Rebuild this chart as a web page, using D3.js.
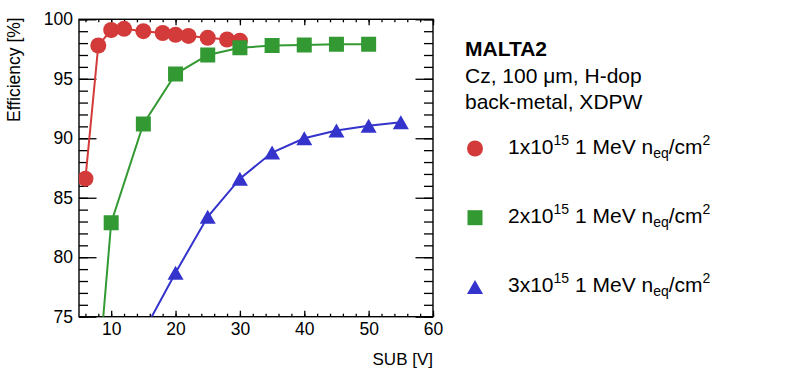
<!DOCTYPE html>
<html>
  <head>
    <meta charset="utf-8">
    <title>MALTA2 efficiency vs SUB voltage</title>
    <script src="https://d3js.org/d3.v7.min.js"></script>
    <style>
      body { margin: 0; background: #fff; }
      svg { font-family: "Liberation Sans", Arial, sans-serif; }
      text { white-space: pre; }
      .axis path { display: none; }
      .axis line { stroke: #000; stroke-width: 1.3; }
      .axis text { font-size: 17.5px; fill: #000; font-family: "Liberation Sans", Arial, sans-serif; }
    </style>
  </head>
  <body>
    <svg id="chart" width="788" height="378"></svg>
    <script>
      // data
      subRed = [6, 8, 10, 12, 15, 18, 20, 22, 25, 28, 30];
      effRed = [86.6, 97.8, 99.1, 99.2, 99.0, 98.85, 98.7, 98.6, 98.45, 98.3, 98.2];
      subGreen = [8, 10, 15, 20, 25, 30, 35, 40, 45, 50];
      effGreen = [70.0, 82.9, 91.2, 95.4, 97.0, 97.6, 97.8, 97.85, 97.9, 97.9];
      subBlue = [15, 20, 25, 30, 35, 40, 45, 50, 55];
      effBlue = [73.7, 78.7, 83.4, 86.6, 88.8, 90.0, 90.65, 91.05, 91.35];
      fluences = ["1", "2", "3"];
      xTicks = [10, 20, 30, 40, 50, 60];
      yTicks = [75, 80, 85, 90, 95, 100];
      titleLines = ["MALTA2", "Cz, 100 \u03bcm, H-dop", "back-metal, XDPW"];

      // ROOT style triangle, centred on its bounding box
      triangleUp = {
        draw: function(ctx, size) {
          var w = Math.sqrt(size) / 2, h = w * 0.875;
          ctx.moveTo(0, -h);
          ctx.lineTo(w, h);
          ctx.lineTo(-w, h);
          ctx.closePath();
        }
      };
      series = [
        { sub: subRed, eff: effRed, colour: "#d33a3a", symbol: d3.symbolCircle, size: 201 },
        { sub: subGreen, eff: effGreen, colour: "#339933", symbol: d3.symbolSquare, size: 225 },
        { sub: subBlue, eff: effBlue, colour: "#3434cc", symbol: triangleUp, size: 256 }
      ];

      svg = d3.select("#chart");
      frame = { left: 79, right: 433, top: 19.3, bottom: 316.7 };
      x = d3.scaleLinear().domain([5, 60]).range([frame.left, frame.right]);
      y = d3.scaleLinear().domain([75, 100]).range([frame.bottom, frame.top]);

      svg.append("clipPath")
        .attr("id", "plotClip")
        .append("rect")
          .attr("x", frame.left)
          .attr("y", frame.top)
          .attr("width", frame.right - frame.left)
          .attr("height", frame.bottom - frame.top);

      // axes: major + minor ticks, mirrored on top and right
      xMinor = d3.range(6, 61, 2);
      yMinor = d3.range(75, 101, 1);
      svg.append("g").attr("class", "axis")
        .attr("transform", "translate(0," + frame.bottom + ")")
        .call(d3.axisBottom(x).tickValues(xMinor).tickFormat("").tickSizeInner(-3).tickSizeOuter(0));
      svg.append("g").attr("class", "axis")
        .attr("transform", "translate(0," + frame.bottom + ")")
        .call(d3.axisBottom(x).tickValues(xTicks).tickSizeInner(-6).tickSizeOuter(0).tickPadding(6));
      svg.append("g").attr("class", "axis")
        .attr("transform", "translate(0," + frame.top + ")")
        .call(d3.axisTop(x).tickValues(xMinor).tickFormat("").tickSizeInner(-3).tickSizeOuter(0));
      svg.append("g").attr("class", "axis")
        .attr("transform", "translate(0," + frame.top + ")")
        .call(d3.axisTop(x).tickValues(xTicks).tickFormat("").tickSizeInner(-6).tickSizeOuter(0));
      svg.append("g").attr("class", "axis")
        .attr("transform", "translate(" + frame.left + ",0)")
        .call(d3.axisLeft(y).tickValues(yMinor).tickFormat("").tickSizeInner(-9).tickSizeOuter(0));
      svg.append("g").attr("class", "axis")
        .attr("transform", "translate(" + frame.left + ",0)")
        .call(d3.axisLeft(y).tickValues(yTicks).tickSizeInner(-17.5).tickSizeOuter(0).tickPadding(6));
      svg.append("g").attr("class", "axis")
        .attr("transform", "translate(" + frame.right + ",0)")
        .call(d3.axisRight(y).tickValues(yMinor).tickFormat("").tickSizeInner(-9).tickSizeOuter(0));
      svg.append("g").attr("class", "axis")
        .attr("transform", "translate(" + frame.right + ",0)")
        .call(d3.axisRight(y).tickValues(yTicks).tickFormat("").tickSizeInner(-17.5).tickSizeOuter(0));

      svg.append("rect")
        .attr("x", frame.left)
        .attr("y", frame.top)
        .attr("width", frame.right - frame.left)
        .attr("height", frame.bottom - frame.top)
        .attr("fill", "none")
        .attr("stroke", "#000")
        .attr("stroke-width", 1.4);

      // axis titles
      svg.append("text")
        .attr("x", frame.right)
        .attr("y", 365)
        .attr("text-anchor", "end")
        .attr("font-size", 17)
        .text("SUB [V]");
      svg.append("text")
        .attr("transform", "translate(20," + (frame.top - 2) + ") rotate(-90)")
        .attr("text-anchor", "end")
        .attr("font-size", 17.5)
        .text("Efficiency [%]");

      // curves
      plot = svg.append("g").attr("clip-path", "url(#plotClip)");
      line = d3.line()
        .x(function(d) { return x(d[0]); })
        .y(function(d) { return y(d[1]); });
      series.forEach(function(s) {
        pts = d3.zip(s.sub, s.eff);
        plot.append("path")
          .datum(pts)
          .attr("d", line)
          .attr("fill", "none")
          .attr("stroke", s.colour)
          .attr("stroke-width", 2);
        plot.selectAll(null)
          .data(pts)
          .join("path")
            .attr("transform", function(d) { return "translate(" + x(d[0]) + "," + y(d[1]) + ")"; })
            .attr("d", d3.symbol(s.symbol, s.size))
            .attr("fill", s.colour);
      });

      // legend
      legend = svg.append("g");
      titleLines.forEach(function(t, i) {
        legend.append("text")
          .attr("x", 465)
          .attr("y", 56 + i * 26.5)
          .attr("font-size", 21)
          .attr("font-weight", i == 0 ? "bold" : "normal")
          .text(t);
      });
      function richText(sel, tx, ty, parts) {
        var t = sel.append("text").attr("x", tx).attr("y", ty).attr("font-size", 21);
        var shift = 0;
        parts.forEach(function(p) {
          var target = p[1] == "sup" ? -9 : p[1] == "sub" ? 3.5 : 0;
          t.append("tspan")
            .attr("dy", target - shift)
            .attr("font-size", p[1] ? 14 : 21)
            .text(p[0]);
          shift = target;
        });
      }
      series.forEach(function(s, i) {
        var ly = 148.5 + i * 69.2;
        legend.append("path")
          .attr("transform", "translate(475," + ly + ")")
          .attr("d", d3.symbol(s.symbol, s.size))
          .attr("fill", s.colour);
        richText(legend, 508, ly + 5.5, [
          [fluences[i] + "x10"], ["15", "sup"], [" 1 MeV n"], ["eq", "sub"], ["/cm"], ["2", "sup"]
        ]);
      });
    </script>
  </body>
</html>
